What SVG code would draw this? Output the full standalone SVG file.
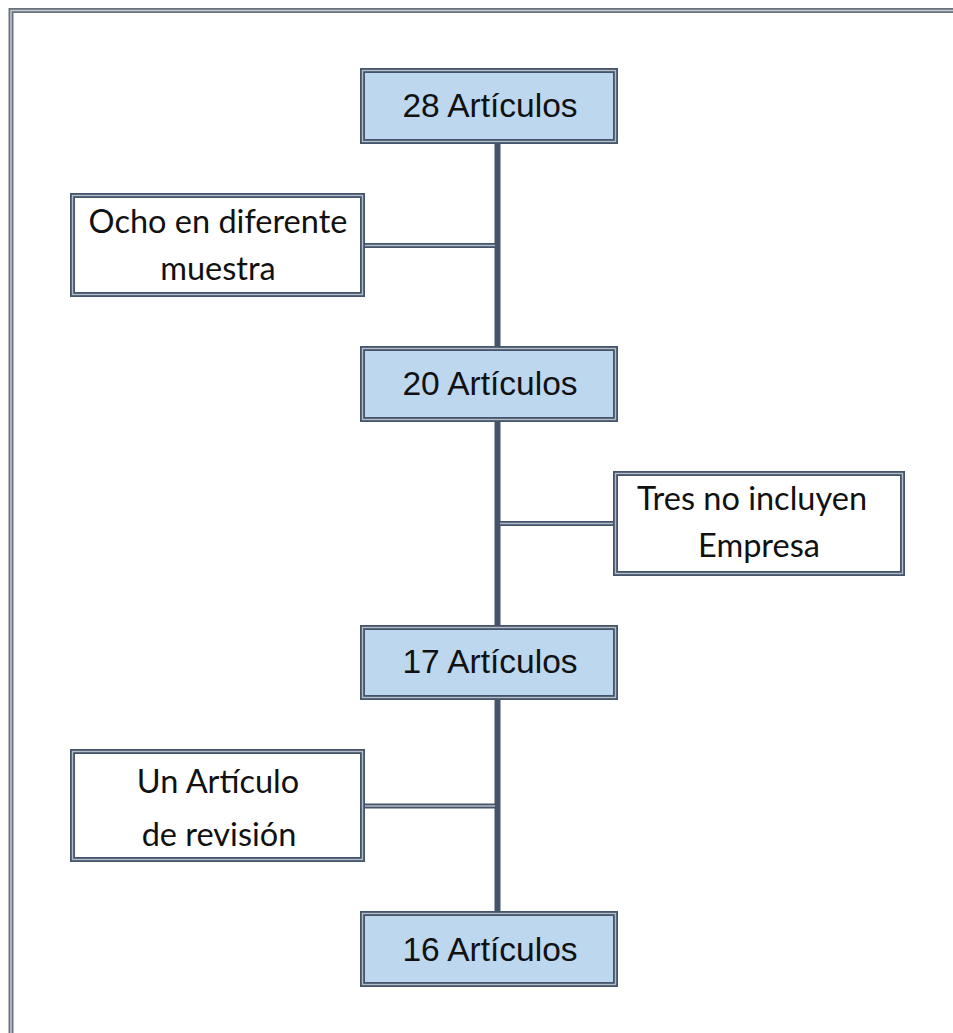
<svg xmlns="http://www.w3.org/2000/svg" width="953" height="1033" viewBox="0 0 953 1033">
<style>
.bo{stroke:#44546a;stroke-width:5}
.bi{fill:none;stroke:#b4bcc8;stroke-width:1.4}
.main{fill:#bdd7ee}
.side{fill:#ffffff}
.lbl{font-family:"Liberation Sans",Arial,sans-serif;font-size:33.5px;fill:#111111;text-anchor:middle}
.sl{font-family:Lato,"Open Sans",sans-serif;font-size:32.5px;fill:#111111;text-anchor:middle}
.spine{stroke:#44546a;stroke-width:6;fill:none}
.co{stroke:#44546a;stroke-width:5;fill:none}
.ci{stroke:#b4bcc8;stroke-width:1.4;fill:none}
</style>
<rect width="953" height="1033" fill="#ffffff"/>
<g id="frame">
<rect x="11" y="10.5" width="960" height="1040" fill="none" stroke="#6b7380" stroke-width="5"/>
<rect x="11" y="10.5" width="960" height="1040" fill="none" stroke="#c8cdd4" stroke-width="1.4"/>
</g>
<g id="connectors">
<line class="spine" x1="497.5" y1="143" x2="497.5" y2="911"/>
<line class="co" x1="365" y1="245.5" x2="495" y2="245.5"/>
<line class="ci" x1="365" y1="245.5" x2="495" y2="245.5"/>
<line class="co" x1="500" y1="523.5" x2="613" y2="523.5"/>
<line class="ci" x1="500" y1="523.5" x2="613" y2="523.5"/>
<line class="co" x1="365" y1="806" x2="495" y2="806"/>
<line class="ci" x1="365" y1="806" x2="495" y2="806"/>
</g>
<g id="n28">
<rect class="bo main" x="362.5" y="70.5" width="253" height="71"/>
<rect class="bi" x="362.5" y="70.5" width="253" height="71"/>
<text class="lbl" x="490" y="117">28 Artículos</text>
</g>
<g id="ocho">
<rect class="bo side" x="72.5" y="195.5" width="290" height="99"/>
<rect class="bi" x="72.5" y="195.5" width="290" height="99"/>
<text class="sl" x="218" y="233">Ocho en diferente</text>
<text class="sl" x="218" y="280">muestra</text>
</g>
<g id="n20">
<rect class="bo main" x="362.5" y="348.5" width="253" height="71"/>
<rect class="bi" x="362.5" y="348.5" width="253" height="71"/>
<text class="lbl" x="490" y="395">20 Artículos</text>
</g>
<g id="tres">
<rect class="bo side" x="615.5" y="473.5" width="287" height="100"/>
<rect class="bi" x="615.5" y="473.5" width="287" height="100"/>
<text class="sl" x="752" y="510">Tres no incluyen</text>
<text class="sl" x="759" y="557">Empresa</text>
</g>
<g id="n17">
<rect class="bo main" x="362.5" y="627.5" width="253" height="70"/>
<rect class="bi" x="362.5" y="627.5" width="253" height="70"/>
<text class="lbl" x="490" y="673">17 Artículos</text>
</g>
<g id="un">
<rect class="bo side" x="72.5" y="751.5" width="290" height="108"/>
<rect class="bi" x="72.5" y="751.5" width="290" height="108"/>
<text class="sl" x="218" y="793">Un Artículo</text>
<text class="sl" x="219" y="846">de revisión</text>
</g>
<g id="n16">
<rect class="bo main" x="362.5" y="913.5" width="253" height="71"/>
<rect class="bi" x="362.5" y="913.5" width="253" height="71"/>
<text class="lbl" x="490" y="961">16 Artículos</text>
</g>
</svg>
